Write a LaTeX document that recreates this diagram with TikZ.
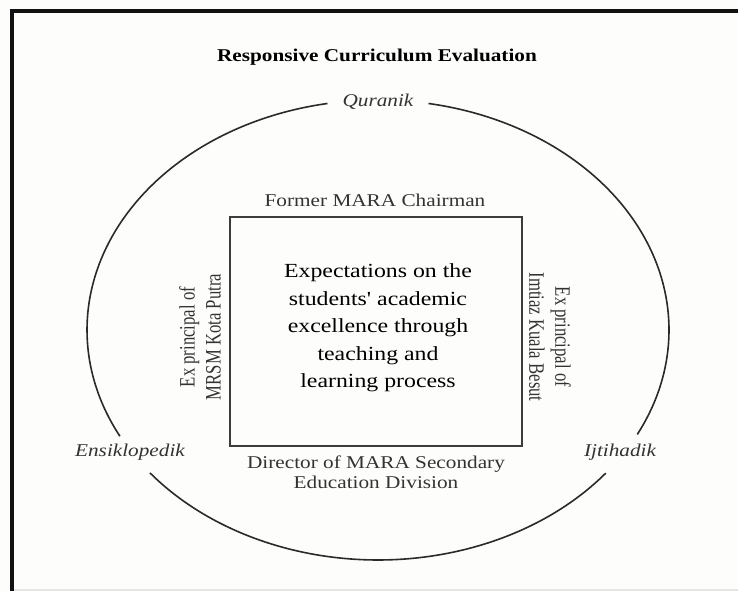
\documentclass[tikz,border=0pt]{standalone}
\usepackage{fontspec}
\setmainfont{Liberation Serif}
\newfontfamily\wideserif[FakeStretch=1.18]{Liberation Serif}
\newfontfamily\midserif[FakeStretch=1.19]{Liberation Serif}
\newfontfamily\narrowserif[FakeStretch=0.76]{Liberation Serif}
\definecolor{labelgray}{HTML}{333333}
\definecolor{boxgray}{HTML}{3C3C3C}
\definecolor{ringgray}{HTML}{2A2A2A}
\definecolor{paper}{HTML}{FDFDFB}
\definecolor{framecol}{HTML}{111111}
\begin{document}
\begin{tikzpicture}[x=1pt,y=1pt,
  lbl/.style={text=labelgray, font=\wideserif\fontsize{18}{20.5}\selectfont, align=center, inner sep=0pt},
  ital/.style={text=labelgray, font=\wideserif\itshape\fontsize{18}{20}\selectfont, inner sep=0pt},
  sidelbl/.style={text=labelgray, font=\narrowserif\fontsize{22}{26}\selectfont, align=center, inner sep=0pt},
  ring/.style={draw=ringgray, line width=1.6pt},
  frameline/.style={draw=framecol, line width=4.2pt},
]
\useasboundingbox[fill=paper] (0,0) rectangle (738,591);
% frame (top and left edges)
\draw[frameline, line join=miter] (738,580) -- (12,580) -- (12,0);
\draw[draw=black!10, line width=1.5pt] (14,0.8) -- (738,0.8);

% title
\node[anchor=base, inner sep=0pt, font=\wideserif\bfseries\fontsize{18}{20}\selectfont] (title) at (377,529) {Responsive Curriculum Evaluation};

% outer ellipse, broken at the three labels
\draw[ring] (378,261) ++(80:291pt and 230pt) arc[start angle=80, end angle=-27, x radius=291pt, y radius=230pt];
\draw[ring] (378,261) ++(-38.5:291pt and 230pt) arc[start angle=-38.5, end angle=-141.6, x radius=291pt, y radius=230pt];
\draw[ring] (378,261) ++(207.5:291pt and 230pt) arc[start angle=207.5, end angle=100, x radius=291pt, y radius=230pt];

\node[ital, anchor=base] (quranik) at (378,484) {Quranik};
\node[ital, anchor=base] (ensik) at (130,134) {Ensiklopedik};
\node[ital, anchor=base] (ijtihad) at (620,134) {Ijtihadik};

% inner box
\node[draw=boxgray, line width=1.6pt, minimum width=292pt, minimum height=229pt, inner sep=0pt] (box) at (376,259.5) {};
\node[align=center, inner sep=0pt, font=\midserif\fontsize{20}{27.5}\selectfont] (expect) at (378,263)
  {Expectations on the\\students' academic\\excellence through\\teaching and\\learning process};

\node[lbl, anchor=base] (chair) at (375,384) {Former MARA Chairman};
\node[lbl, anchor=north] (director) at (376,135.5) {Director of MARA Secondary\\Education Division};
\node[sidelbl, rotate=90] (mrsm) at (200,254) {Ex principal of\\MRSM Kota Putra};
\node[sidelbl, rotate=-90] (imtiaz) at (550,254) {Ex principal of\\Imtiaz Kuala Besut};
\end{tikzpicture}
\end{document}
